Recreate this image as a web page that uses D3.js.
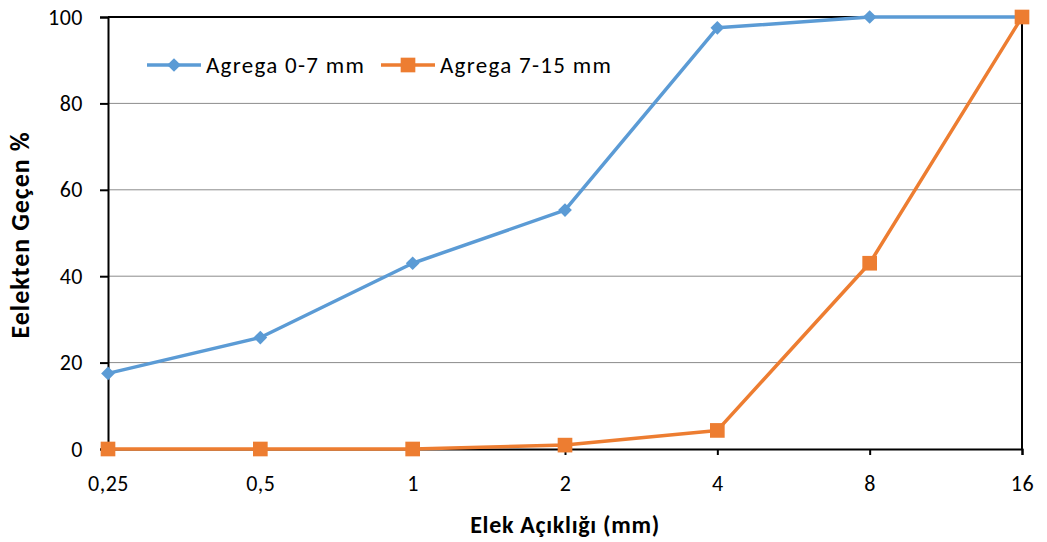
<!DOCTYPE html>
<html>
<head>
<meta charset="utf-8">
<script src="https://cdn.jsdelivr.net/npm/d3@7"></script>
<style>
  body { margin: 0; background: #fff; }
  text { font-family: Calibri, Carlito, Lato, "Open Sans", sans-serif; fill: #000; }
</style>
</head>
<body>
<div id="chart"></div>
<script>
// elek acikliklari (mm)
var sieves = ["0,25", "0,5", "1", "2", "4", "8", "16"];
var agrega07 = [17.5, 25.8, 43, 55.3, 97.5, 100, 100];
var agrega715 = [0, 0, 0, 0.9, 4.3, 43, 100];
var yTicks = [0, 20, 40, 60, 80, 100];
var seriesNames = ["Agrega 0-7 mm", "Agrega 7-15 mm"];
var colors = ["#5B9BD5", "#ED7D31"];

var W = 1047, H = 542;
var margin = {top: 17, right: 25, bottom: 93, left: 108};
var width = W - margin.left - margin.right;
var height = H - margin.top - margin.bottom;

var svg = d3.select("#chart").append("svg")
  .attr("width", W).attr("height", H);

var g = svg.append("g")
  .attr("transform", "translate(" + margin.left + "," + margin.top + ")");

var x = d3.scalePoint().domain(sieves).range([0, width]);
var y = d3.scaleLinear().domain([0, 100]).range([height, 0]);

// grid
g.selectAll(".grid").data(yTicks.slice(1, -1)).enter()
  .append("line")
  .attr("x1", 0).attr("x2", width)
  .attr("y1", function(d){ return y(d); }).attr("y2", function(d){ return y(d); })
  .attr("stroke", "#8c8c8c").attr("stroke-width", 1);

// plot area border top + right
g.append("line").attr("x1", 0).attr("x2", width).attr("y1", 0).attr("y2", 0)
  .attr("stroke", "#000").attr("stroke-width", 2);
g.append("line").attr("x1", width).attr("x2", width).attr("y1", 0).attr("y2", height)
  .attr("stroke", "#000").attr("stroke-width", 2);

// axes
var yAxis = d3.axisLeft(y).tickValues(yTicks).tickSize(8).tickPadding(17);
var xAxis = d3.axisBottom(x).tickSize(6).tickPadding(20);

var gy = g.append("g").call(yAxis);
var gx = g.append("g").attr("transform", "translate(0," + height + ")").call(xAxis);

[gy, gx].forEach(function(a){
  a.select(".domain").attr("stroke", "#000").attr("stroke-width", 2);
  a.selectAll(".tick line").attr("stroke", "#000").attr("stroke-width", 2);
  a.selectAll(".tick text").style("font-size", "22px").style("letter-spacing", "0.5px").attr("fill", "#000");
});

// lines
var data = [agrega07, agrega715];
var line = d3.line()
  .x(function(d, i){ return x(sieves[i]); })
  .y(function(d){ return y(d); });

data.forEach(function(s, k){
  g.append("path").datum(s)
    .attr("d", line)
    .attr("fill", "none")
    .attr("stroke", colors[k])
    .attr("stroke-width", 3.5)
    .attr("stroke-linejoin", "round");
});

var diamond = d3.symbol().type(d3.symbolDiamond2).size(120);
var square = d3.symbol().type(d3.symbolSquare).size(215);

data.forEach(function(s, k){
  g.selectAll(".m" + k).data(s).enter()
    .append("path")
    .attr("d", k == 0 ? diamond : square)
    .attr("transform", function(d, i){ return "translate(" + x(sieves[i]) + "," + y(d) + ")"; })
    .attr("fill", colors[k]);
});

// legend
var legX = [147, 381];
seriesNames.forEach(function(n, k){
  var lg = svg.append("g").attr("transform", "translate(" + legX[k] + ",65)");
  lg.append("line").attr("x1", 0).attr("x2", 54).attr("y1", 0).attr("y2", 0)
    .attr("stroke", colors[k]).attr("stroke-width", 3.5);
  lg.append("path").attr("d", k == 0 ? diamond : square)
    .attr("transform", "translate(27,0)").attr("fill", colors[k]);
  lg.append("text").attr("x", 59).attr("y", 8)
    .style("font-size", "23px").style("letter-spacing", "1.3px").text(n);
});

// axis titles
svg.append("text")
  .attr("x", margin.left + width / 2).attr("y", 533)
  .attr("text-anchor", "middle")
  .style("font-size", "24px").style("font-weight", "bold").style("letter-spacing", "0.7px")
  .text("Elek Açıklığı (mm)");

svg.append("text")
  .attr("transform", "translate(29,235) rotate(-90)")
  .attr("text-anchor", "middle")
  .style("font-size", "26px").style("font-weight", "bold").style("letter-spacing", "1px")
  .text("Eelekten Geçen %");
</script>
</body>
</html>
